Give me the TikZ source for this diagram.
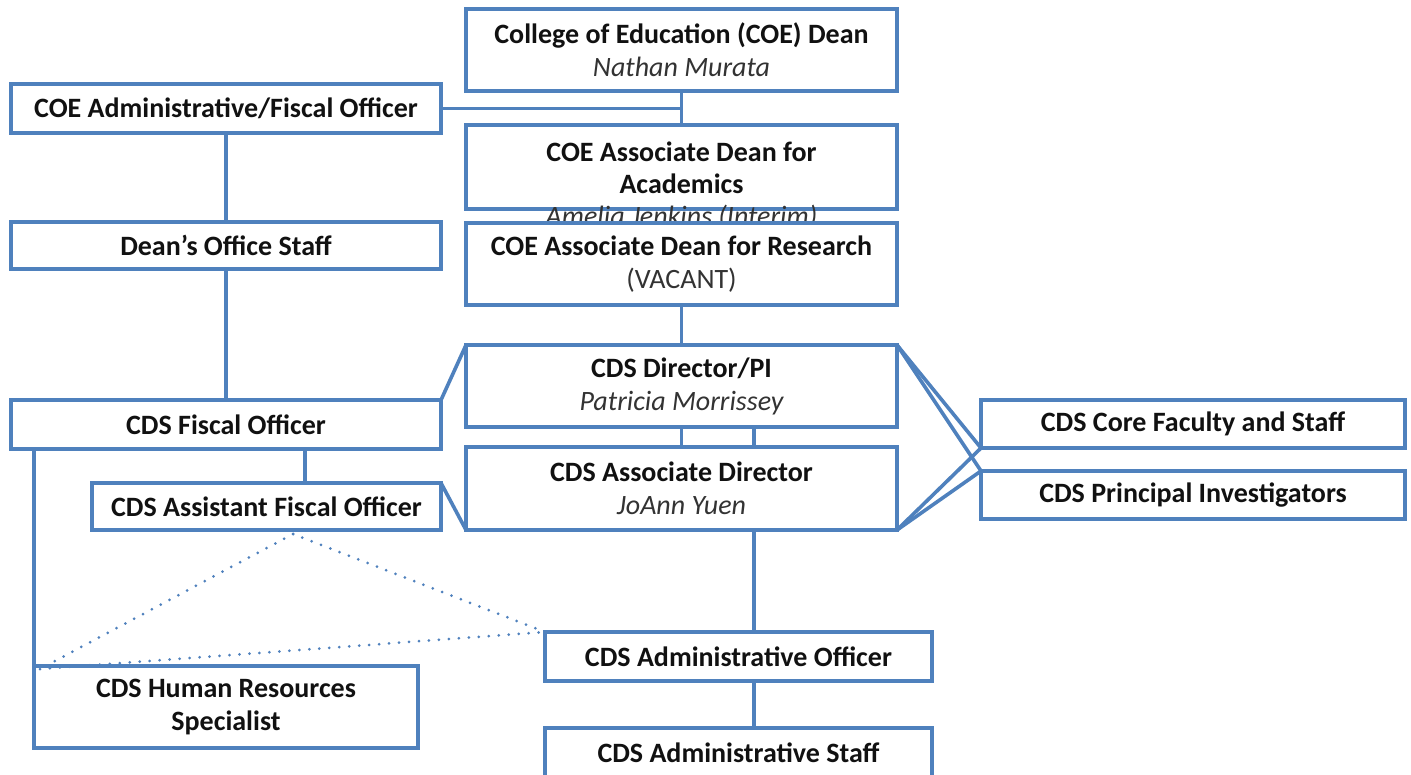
\documentclass[tikz,border=0pt]{standalone}
\usepackage{fontspec}
\setmainfont{Carlito}
\definecolor{boxblue}{HTML}{4F81BD}
\definecolor{txt}{HTML}{111111}
\definecolor{name}{HTML}{333333}
\begin{document}
\begin{tikzpicture}[x=1pt,y=-1pt,
  box/.style={draw=boxblue, line width=3.6pt, fill=white, inner sep=0pt, outer sep=0pt,
    align=center, text=txt, font=\fontsize{28}{33}\selectfont\bfseries},
  conn/.style={draw=boxblue, line width=3.6pt},
  dotconn/.style={draw=boxblue, line width=3pt, line cap=round, dash pattern=on 0pt off 10pt},
  nm/.style={font=\fontsize{28}{33}\selectfont\itshape\mdseries, text=name}]
\useasboundingbox (0,0) rectangle (1411,775);
\fill[white] (0,0) rectangle (1411,775);

% boxes
\node[box, minimum width=431, minimum height=82] (dean) at (681.5,50) {College of Education (COE) Dean\\{\normalfont\itshape\fontsize{28}{33}\selectfont\color{name}Nathan Murata}};
\node[box, minimum width=430, minimum height=49] (admin) at (226,108.5) {COE Administrative/Fiscal Officer};
\node[box, minimum width=431, minimum height=84] (acad) at (681.5,167) {};
\node[align=center, text=txt, font=\fontsize{28}{32}\selectfont\bfseries, inner sep=0pt, anchor=north] (acadtxt) at (681.5,142) {COE Associate Dean for\\Academics\\{\normalfont\itshape\fontsize{28}{32}\selectfont\color{name}Amelia Jenkins (Interim)}};
\node[box, minimum width=431, minimum height=82] (research) at (681.5,264) {COE Associate Dean for Research\\{\normalfont\fontsize{28}{33}\selectfont\color{name}(VACANT)}};
\node[box, minimum width=430, minimum height=47] (deanstaff) at (226,245.5) {Dean’s Office Staff};
\node[box, minimum width=431, minimum height=82] (director) at (681.5,386) {CDS Director/PI\\{\normalfont\itshape\fontsize{28}{33}\selectfont\color{name}Patricia Morrissey}};
\node[box, minimum width=431, minimum height=83] (assocdir) at (681.5,488.5) {CDS Associate Director\\{\normalfont\itshape\fontsize{28}{33}\selectfont\color{name}JoAnn Yuen}};
\node[box, minimum width=430, minimum height=49] (fiscal) at (226,424.5) {CDS Fiscal Officer};
\node[box, minimum width=349, minimum height=47] (asstfiscal) at (266.5,506.5) {CDS Assistant Fiscal Officer};
\node[box, minimum width=384, minimum height=82] (hr) at (226,707) {CDS Human Resources\\Specialist};
\node[box, minimum width=387, minimum height=49] (adminoff) at (738.5,656.5) {CDS Administrative Officer};
\node[box, minimum width=387, minimum height=50] (adminstaff) at (738.5,753) {CDS Administrative Staff};
\node[box, minimum width=424, minimum height=48] (core) at (1193,424) {CDS Core Faculty and Staff};
\node[box, minimum width=424, minimum height=48] (pi) at (1193,495) {CDS Principal Investigators};

% connectors
\draw[conn] (dean.south) -- (acad.north);
\draw[conn] (admin.east) -- (admin.east -| dean.south);
\draw[conn] (admin.south) -- (deanstaff.north);
\draw[conn] (deanstaff.south) -- (fiscal.north);
\draw[conn] (research.south) -- (director.north);
\draw[conn] (fiscal.north east) -- (director.north west);
\draw[conn] (director.south) -- (assocdir.north);
\draw[conn] ([xshift=72.5]director.south) -- ([xshift=72.5]assocdir.north);
\draw[conn] ([xshift=72.5]assocdir.south) -- ([xshift=72.5]assocdir.south |- adminoff.north);
\draw[conn] ([xshift=15.5]adminoff.south) -- ([xshift=15.5]adminstaff.north);
\draw[conn] ([xshift=79]fiscal.south) -- ([xshift=79]fiscal.south |- asstfiscal.north);
\draw[conn] (asstfiscal.north east) -- (assocdir.south west);
\draw[conn] (hr.north west) -- (hr.north west |- fiscal.south);
\draw[conn] (director.north east) -- (core.south west);
\draw[conn] (director.north east) -- (pi.north west);
\draw[conn] (assocdir.south east) -- (core.south west);
\draw[conn] (assocdir.south east) -- (pi.north west);

% dotted links
\coordinate (apex) at ([xshift=26.5,yshift=-4]asstfiscal.south);
\draw[dotconn] (apex) -- ([xshift=6,yshift=-3]hr.north west);
\draw[dotconn] (apex) -- (adminoff.north west);
\draw[dotconn] ([xshift=6,yshift=-3]hr.north west) -- (adminoff.north west);
\end{tikzpicture}
\end{document}
